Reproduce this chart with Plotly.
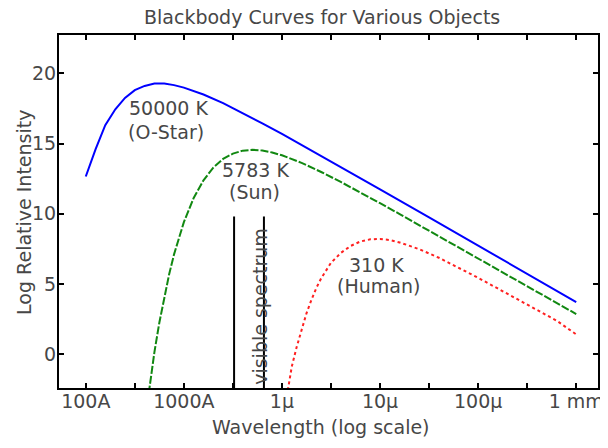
import plotly.graph_objects as go

# Wavelengths in Angstrom, values in log relative intensity
blue_wl = [100, 126, 158, 200, 251, 316, 398, 501, 631, 794, 1000, 1585, 2512,
           3981, 6310, 10000, 15849, 25119, 39811, 63096, 100000, 316228,
           1000000, 3162278, 10000000]
blue_val = [12.65, 14.6, 16.3, 17.44, 18.25, 18.8, 19.1, 19.28, 19.28, 19.16,
            18.98, 18.49, 17.87, 17.17, 16.44, 15.68, 14.90, 14.12, 13.33,
            12.53, 11.73, 9.74, 7.74, 5.74, 3.7]

green_wl = [398, 447, 501, 562, 631, 708, 794, 891, 1000, 1259, 1585, 1995, 2512,
            3162, 3981, 5012, 6310, 7943, 10000, 15849, 25119, 39811, 63096,
            100000, 158489, 251189, 398107, 630957, 1000000, 3162278, 10000000]
green_val = [-4.94, -2.24, 0.14, 2.23, 4.08, 5.69, 7.10, 8.33, 9.40, 11.12, 12.38,
             13.28, 13.90, 14.28, 14.49, 14.55, 14.50, 14.36, 14.16, 13.62, 12.97,
             12.26, 11.52, 10.75, 9.97, 9.18, 8.39, 7.60, 6.80, 4.80, 2.85]

red_wl = [11220, 12589, 14125, 15849, 17783, 19953, 22387, 25119, 31623, 39811,
          50119, 63096, 79433, 100000, 125893, 158489, 199526, 251189, 398107,
          630957, 1000000, 1584893, 2511886, 3981072, 6309573, 10000000]
red_val = [-3.0, -0.9, 0.5, 1.8, 2.9, 3.85, 4.7, 5.4, 6.5, 7.2, 7.7, 8.02, 8.17,
           8.2, 8.12, 7.95, 7.73, 7.47, 6.86, 6.16, 5.43, 4.67, 3.89, 3.11, 2.38, 1.4]

visible_edges = [3250, 6550]
visible_top = 9.8
y_floor = -2.42

x_tickvals = [100, 316.2, 1000, 3162, 10000, 31623, 100000, 316228, 1000000,
              3162278, 10000000]
x_ticktext = ["100A", "", "1000A", "", "1\u00b5", "", "10\u00b5", "", "100\u00b5", "", "1 mm"]
y_tickvals = [0, 5, 10, 15, 20]

FONT = "DejaVu Sans"
TXT = "#474747"
FS = 19
OFF = 8  # page body margin offset

fig = go.Figure()
fig.add_trace(go.Scatter(x=blue_wl, y=blue_val, mode="lines",
                         line=dict(color="#0000ff", width=2)))
fig.add_trace(go.Scatter(x=green_wl, y=green_val, mode="lines",
                         line=dict(color="#118811", width=2, dash="8px,2px")))
fig.add_trace(go.Scatter(x=red_wl, y=red_val, mode="lines",
                         line=dict(color="#ff2020", width=2, dash="3px,3px")))
for wl in visible_edges:
    fig.add_trace(go.Scatter(x=[wl, wl], y=[y_floor, visible_top], mode="lines",
                             line=dict(color="black", width=2)))

ann = [
    ("50000 K", 2.847, 17.5, 0),
    ("(O-Star)", 2.822, 15.79, 0),
    ("5783 K", 3.734, 13.08, 0),
    ("(Sun)", 3.719, 11.58, 0),
    ("310 K", 4.964, 6.34, 0),
    ("(Human)", 4.989, 4.88, 0),
    ("visible spectrum", 3.774, 3.42, -90),
]
annotations = []
for t, ax, ay, ang in ann:
    annotations.append(dict(text=t, x=ax, y=ay, xref="x", yref="y", showarrow=False,
                            textangle=ang, font=dict(family=FONT, size=FS, color=TXT),
                            xanchor="center", yanchor="middle"))
annotations.append(dict(text="Wavelength (log scale)", x=(324 - 59) / 545, y=(388 - 427) / 353,
                        xref="paper", yref="paper", showarrow=False,
                        font=dict(family=FONT, size=FS, color=TXT),
                        xanchor="center", yanchor="middle"))
annotations.append(dict(text="Log Relative Intensity", x=(24 - 59) / 545, y=(388 - 212.5) / 353,
                        xref="paper", yref="paper", showarrow=False, textangle=-90,
                        font=dict(family=FONT, size=FS, color=TXT),
                        xanchor="center", yanchor="middle"))
annotations.append(dict(text="Blackbody Curves for Various Objects", x=(325 - 59) / 545,
                        y=(388 - 17) / 353, xref="paper", yref="paper", showarrow=False,
                        font=dict(family=FONT, size=FS, color=TXT),
                        xanchor="center", yanchor="middle"))

fig.update_layout(
    width=608 - OFF, height=448 - OFF,
    margin=dict(l=59 - OFF, r=4, t=35 - OFF, b=60),
    paper_bgcolor="white", plot_bgcolor="white",
    showlegend=False,
    annotations=annotations,
)
fig.update_xaxes(type="log", range=[1.727, 7.222], tickvals=x_tickvals, ticktext=x_ticktext,
                 ticks="inside", ticklen=5, tickwidth=2, tickcolor="black",
                 showline=True, linecolor="black", linewidth=2, mirror="ticks",
                 showgrid=False, zeroline=False, ticklabelstandoff=-5,
                 tickfont=dict(family=FONT, size=FS, color=TXT))
fig.update_yaxes(range=[y_floor, 22.73], tickvals=y_tickvals,
                 ticks="inside", ticklen=5, tickwidth=2, tickcolor="black",
                 showline=True, linecolor="black", linewidth=2, mirror="ticks",
                 showgrid=False, zeroline=False, ticklabelstandoff=-3,
                 tickfont=dict(family=FONT, size=FS, color=TXT))

fig.write_html("out.html")
